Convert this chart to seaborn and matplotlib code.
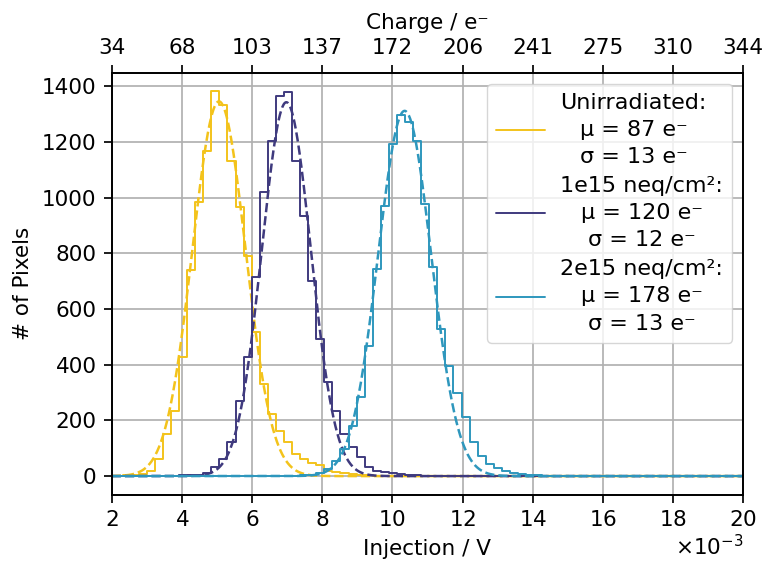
import numpy as np
import pandas as pd
import seaborn as sns
import matplotlib.pyplot as plt

sns.set_style("ticks")
plt.rcParams['font.family'] = ['DejaVu Sans']
# 原图为高 dpi 导出，这里按比例放大字号、线宽和间距
k_scale = 1.55
fs = 15.5
plt.rcParams.update({
    'font.size': fs,
    'xtick.labelsize': fs,
    'ytick.labelsize': fs,
    'axes.labelsize': fs,
    'axes.linewidth': 0.8 * k_scale,
    'axes.labelpad': 4.0 * k_scale,
    'grid.linewidth': 0.8 * k_scale,
    'grid.color': '#b0b0b0',
    'xtick.major.size': 3.5 * k_scale,
    'ytick.major.size': 3.5 * k_scale,
    'xtick.major.width': 0.8 * k_scale,
    'ytick.major.width': 0.8 * k_scale,
    'xtick.major.pad': 3.5 * k_scale,
    'ytick.major.pad': 3.5 * k_scale,
    'xtick.color': 'black',
    'ytick.color': 'black',
    'axes.edgecolor': 'black',
    'text.color': 'black',
    'axes.labelcolor': 'black',
})

# 直方图分箱 (V)
bin_width = 0.23e-3
bin_edges = list(1.85e-3 + bin_width * np.arange(81))

# 每个分箱的像素数
counts_unirr = [1, 2, 3, 5, 8, 20, 60, 150, 233, 427, 740, 983, 1168, 1383, 1333,
                1132, 965, 791, 517, 330, 222, 162, 122, 80, 61, 47, 40, 18, 15, 12,
                8, 5, 3, 2, 1] + [0] * 45
counts_1e15 = [0, 0, 0, 0, 0, 0, 1, 1, 2, 3, 4,
               5, 10, 32, 61, 122, 268, 427, 714, 1019, 1202, 1364, 1378, 1131, 933, 700,
               492, 337, 233, 150, 104, 68, 32, 18, 14, 10, 7, 5, 3, 2, 1] + [0] * 39
counts_2e15 = [0] * 22 + [1, 2, 3, 5, 10, 25, 54, 97, 180, 283,
                          467, 743, 970, 1192, 1296, 1271, 1202, 976, 750, 527,
                          395, 300, 212, 122, 72, 45, 30, 18, 12, 7,
                          5, 3, 2, 1] + [0] * 24

# 高斯拟合参数 (电子数)
mu_e = [87, 120, 178]
sigma_e = [13, 12, 13]
fit_amp = [1345, 1342, 1311]
e_per_volt = 17200

labels = ["Unirradiated:", "1e15 neq/cm²:", "2e15 neq/cm²:"]
colors = ["#f3c31b", "#3f3a7e", "#2e97bd"]

x_ticks = [0.002, 0.004, 0.006, 0.008, 0.010, 0.012, 0.014, 0.016, 0.018, 0.020]
charge_labels = ["34", "68", "103", "137", "172", "206", "241", "275", "310", "344"]

centers = [(bin_edges[k] + bin_edges[k + 1]) / 2 for k in range(80)]
all_counts = [counts_unirr, counts_1e15, counts_2e15]

fig = plt.figure(figsize=(7.65, 5.61), dpi=100)
ax = fig.add_axes([0.146, 0.1176, 0.8256, 0.7528])

xs = np.linspace(0.002, 0.020, 1000)
for i in range(3):
    df = pd.DataFrame({'x': centers, 'w': all_counts[i]})
    lab = f"{labels[i]}\nμ = {mu_e[i]} e⁻\nσ = {sigma_e[i]} e⁻"
    sns.histplot(data=df, x='x', weights='w', bins=bin_edges, element="step", fill=False,
                 color=colors[i], linewidth=1.4, ax=ax, label=lab)
    mu = mu_e[i] / e_per_volt
    sig = sigma_e[i] / e_per_volt
    ys = fit_amp[i] * np.exp(-0.5 * ((xs - mu) / sig) ** 2)
    sns.lineplot(x=xs, y=ys, color=colors[i], linestyle='--', linewidth=1.8, ax=ax)

ax.set_xlim(0.002, 0.020)
ax.set_ylim(-68, 1448)
ax.set_xticks(x_ticks)
ax.set_yticks([0, 200, 400, 600, 800, 1000, 1200, 1400])
ax.ticklabel_format(axis='x', style='sci', scilimits=(-3, -3), useMathText=True)
ax.grid(True)
ax.xaxis.get_offset_text().set_fontsize(fs)
ax.set_xlabel("Injection / V", fontsize=fs)
ax.set_ylabel("# of Pixels", fontsize=fs)
for s in ax.spines.values():
    s.set_visible(True)

ax2 = ax.twiny()
ax2.set_xlim(ax.get_xlim())
ax2.set_xticks(x_ticks)
ax2.set_xticklabels(charge_labels)
ax2.tick_params(labelsize=fs)
ax2.set_xlabel("Charge / e⁻", fontsize=fs)

leg = ax.legend(loc='upper right', fontsize=16, handlelength=2.2, handletextpad=0.7,
                labelspacing=0.4, framealpha=0.8)
for t in leg.get_texts():
    t.set_multialignment('center')
    t.set_linespacing(1.45)

fig.savefig("out.png", dpi=100)
